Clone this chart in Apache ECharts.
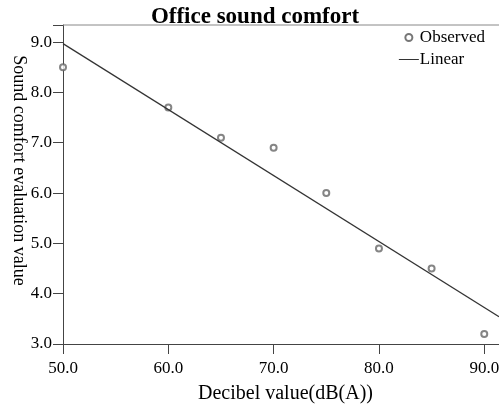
<!DOCTYPE html>
<html>
<head>
<meta charset="utf-8">
<script src="https://cdn.jsdelivr.net/npm/echarts@6/dist/echarts.min.js"></script>
<style>
  html, body { margin: 0; padding: 0; background: #fff; }
</style>
</head>
<body>
<div id="chart" style="width: 499px; height: 407px;"></div>
<script>
// observed points
var decibel = [50, 60, 65, 70, 75, 80, 85, 90];
var comfort = [8.5, 7.7, 7.1, 6.9, 6.0, 4.9, 4.5, 3.2];
// linear fit, read at the two ends of the plot
var fitX = [50, 91.4];
var fitY = [8.97, 3.54];

var font = "Liberation Serif";

var myChart = echarts.init(document.getElementById("chart"));
var option = {
  animation: false,
  title: {
    text: "Office sound comfort",
    left: 250,
    top: 1,
    textAlign: "center",
    textStyle: { fontFamily: font, fontSize: 23, fontWeight: "bold", color: "#000" }
  },
  legend: {
    right: 9,
    top: 24,
    orient: "vertical",
    itemGap: 5,
    itemWidth: 20,
    itemHeight: 7,
    textStyle: { fontFamily: font, fontSize: 17, color: "#000", padding: [0, 0, 0, -4] },
    data: [
      { name: "Observed", icon: "emptyCircle", itemStyle: { color: "#555", borderColor: "#555", borderWidth: 1 } },
      { name: "Linear", icon: "path://M0,3 L20,3 L20,4 L0,4 Z", itemStyle: { color: "#333" } }
    ]
  },
  grid: { left: 63, top: 25, right: 0, bottom: 63, outerBoundsMode: "none", containLabel: false },
  xAxis: {
    type: "value",
    min: 50,
    max: 91.4,
    interval: 10,
    name: "Decibel value(dB(A))",
    nameLocation: "middle",
    nameGap: 40,
    nameMoveOverlap: false,
    nameTextStyle: { fontFamily: font, fontSize: 20, color: "#000", padding: [0, 0, 0, 9] },
    axisLine: { lineStyle: { color: "#444" } },
    axisTick: { length: 10, lineStyle: { color: "#444" } },
    splitLine: { show: false },
    axisLabel: {
      fontFamily: font, fontSize: 17, color: "#000", margin: 16,
      formatter: function (v) { return v % 10 === 0 ? v.toFixed(1) : ""; }
    }
  },
  yAxis: {
    type: "value",
    min: 3,
    max: 9.34,
    interval: 1,
    name: "Sound comfort evaluation value",
    nameLocation: "middle",
    nameRotate: -90,
    nameGap: 35,
    nameMoveOverlap: false,
    nameTextStyle: { fontFamily: font, fontSize: 18, color: "#000", padding: [0, 28, 0, 0] },
    axisLine: { show: true, lineStyle: { color: "#444" } },
    axisTick: { show: true, length: 10, lineStyle: { color: "#444" } },
    splitLine: { show: false },
    axisLabel: {
      fontFamily: font, fontSize: 17, color: "#000", margin: 11,
      formatter: function (v) { return Math.abs(v - Math.round(v)) < 1e-6 ? v.toFixed(1) : ""; }
    }
  },
  graphic: [
    {
      type: "line",
      shape: { x1: 63, y1: 25, x2: 499, y2: 25 },
      style: { stroke: "#888", lineWidth: 1 },
      z: 5
    }
  ],
  series: [
    {
      name: "Observed",
      type: "scatter",
      symbol: "emptyCircle",
      symbolSize: 6,
      itemStyle: { color: "#666", borderColor: "#666", borderWidth: 1 },
      data: decibel.map(function (d, i) { return [d, comfort[i]]; })
    },
    {
      name: "Linear",
      type: "line",
      symbol: "none",
      lineStyle: { color: "#333", width: 1.2 },
      itemStyle: { color: "#333" },
      data: fitX.map(function (d, i) { return [d, fitY[i]]; })
    }
  ]
};
myChart.setOption(option);
</script>
</body>
</html>
